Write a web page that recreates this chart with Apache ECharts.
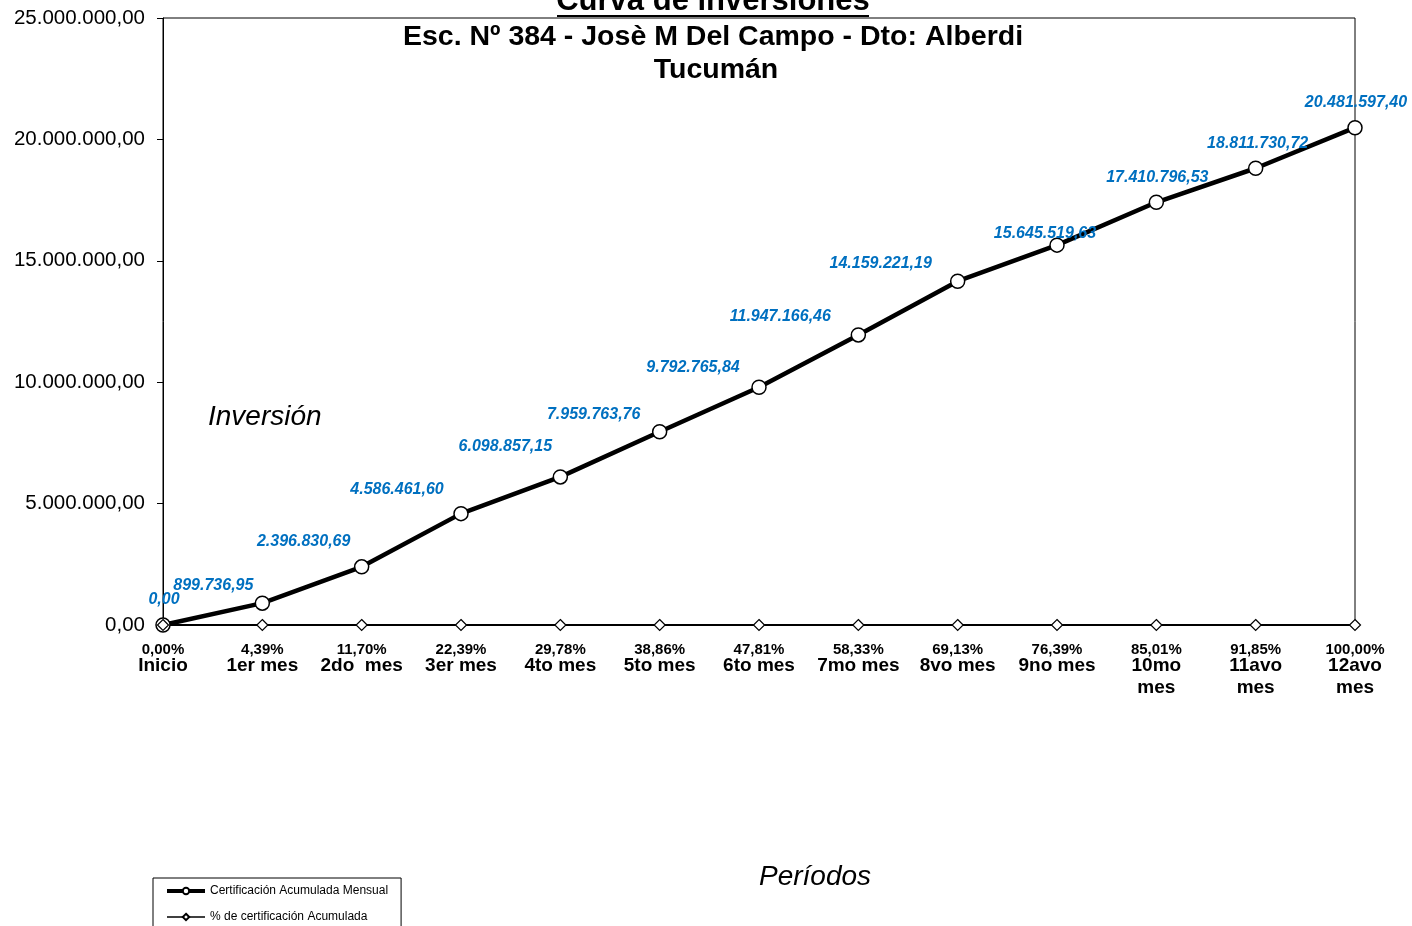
<!DOCTYPE html>
<html>
<head>
<meta charset="utf-8">
<script src="https://cdn.jsdelivr.net/npm/echarts@6/dist/echarts.min.js"></script>
<style>
  html, body { margin: 0; padding: 0; background: #fff; }
  #chart { width: 1412px; height: 926px; }
</style>
</head>
<body>
<div id="chart"></div>
<script>
// datos
const periodos = ['Inicio', '1er mes', '2do  mes', '3er mes', '4to mes', '5to mes', '6to mes',
  '7mo mes', '8vo mes', '9no mes', '10mo\nmes', '11avo\nmes', '12avo\nmes'];
const certAcumulada = [0, 899736.95, 2396830.69, 4586461.60, 6098857.15, 7959763.76, 9792765.84,
  11947166.46, 14159221.19, 15645519.63, 17410796.53, 18811730.72, 20481597.40];
const porcAcumulado = [0, 4.39, 11.70, 22.39, 29.78, 38.86, 47.81, 58.33, 69.13, 76.39, 85.01, 91.85, 100.00];
const yTicks = { min: 0, max: 25000000, step: 5000000 };

// desplazamiento de las etiquetas azules (como en la planilla)
const labelNudge = [[1, -25], [-49, -18], [-58, -25], [-64, -24], [-55, -30], [-66, -17], [-66, -20],
  [-78, -18], [-77, -18], [-12, -12], [1, -25], [2, -25], [1, -25]];

const FONT = 'Arial, "Liberation Sans", sans-serif';

function fmt(v) {
  const parts = v.toFixed(2).split('.');
  parts[0] = parts[0].replace(/\B(?=(\d{3})+(?!\d))/g, '.');
  return parts[0] + ',' + parts[1];
}

var myChart = echarts.init(document.getElementById('chart'));

const option = {
  animation: false,
  backgroundColor: '#fff',
  textStyle: { fontFamily: FONT },
  grid: {
    left: 163, right: 57, top: 18, bottom: 301,
    show: true, borderColor: '#000', borderWidth: 1
  },
  graphic: [
    { type: 'text',
      style: { text: 'Curva de inversiones', x: 713, y: 1, align: 'center', verticalAlign: 'middle',
        font: 'bold 31px ' + FONT, fill: '#000' } },
    { type: 'line', shape: { x1: 557, y1: 16, x2: 869, y2: 16 }, style: { stroke: '#000', lineWidth: 2 } },
    { type: 'text',
      style: { text: 'Esc. Nº 384 - Josè M Del Campo - Dto: Alberdi', x: 713, y: 37, align: 'center',
        verticalAlign: 'middle', font: 'bold 28.5px ' + FONT, fill: '#000' } },
    { type: 'text',
      style: { text: 'Tucumán', x: 716, y: 70, align: 'center', verticalAlign: 'middle',
        font: 'bold 28.5px ' + FONT, fill: '#000' } },
    { type: 'text',
      style: { text: 'Inversión', x: 208, y: 417, align: 'left', verticalAlign: 'middle',
        font: 'italic 28px ' + FONT, fill: '#000' } },
    { type: 'text',
      style: { text: 'Períodos', x: 815, y: 877, align: 'center', verticalAlign: 'middle',
        font: 'italic 28px ' + FONT, fill: '#000' } }
  ],
  legend: {
    orient: 'vertical',
    left: 153, top: 878, height: 120,
    borderColor: '#000', borderWidth: 1,
    padding: [7, 13, 15, 12],
    itemWidth: 38, itemHeight: 8, itemGap: 14,
    textStyle: { fontSize: 12, color: '#000', fontFamily: FONT },
    data: [
      { name: 'Certificación Acumulada Mensual', lineStyle: { width: 4, color: '#000' } },
      { name: '% de certificación Acumulada', lineStyle: { width: 1.5, color: '#000' } }
    ]
  },
  xAxis: {
    type: 'category',
    data: periodos,
    boundaryGap: false,
    axisLine: { lineStyle: { color: '#000', width: 1 } },
    axisTick: { show: false },
    axisLabel: {
      interval: 0, margin: 30, color: '#000', fontWeight: 'bold', fontSize: 19,
      lineHeight: 22, fontFamily: FONT
    },
    splitLine: { show: false }
  },
  yAxis: {
    type: 'value',
    min: yTicks.min, max: yTicks.max, interval: yTicks.step,
    axisLine: { show: true, lineStyle: { color: '#000', width: 1 } },
    axisTick: { show: true, length: 6, lineStyle: { color: '#000' } },
    axisLabel: { color: '#000', fontSize: 20.5, margin: 18, fontFamily: FONT, formatter: v => fmt(v) },
    splitLine: { show: false }
  },
  series: [
    {
      name: 'Certificación Acumulada Mensual',
      type: 'line',
      data: certAcumulada,
      symbol: 'circle',
      symbolSize: 14,
      lineStyle: { color: '#000', width: 4.5 },
      itemStyle: { color: '#fff', borderColor: '#000', borderWidth: 1.5 },
      label: {
        show: true,
        position: 'inside',
        formatter: p => fmt(p.value),
        color: '#0070C0', fontStyle: 'italic', fontWeight: 'bold', fontSize: 16, fontFamily: FONT
      },
      labelLayout: p => ({ dx: labelNudge[p.dataIndex][0], dy: labelNudge[p.dataIndex][1] })
    },
    {
      name: '% de certificación Acumulada',
      type: 'line',
      data: porcAcumulado.map(v => v / 100),
      symbol: 'diamond',
      symbolSize: 11,
      lineStyle: { color: '#000', width: 2 },
      itemStyle: { color: '#fff', borderColor: '#000', borderWidth: 1.2 },
      label: {
        show: true,
        position: 'bottom',
        distance: 11,
        formatter: p => porcAcumulado[p.dataIndex].toFixed(2).replace('.', ',') + '%',
        color: '#000', fontWeight: 'bold', fontSize: 15, fontFamily: FONT
      }
    }
  ]
};

option && myChart.setOption(option);
</script>
</body>
</html>
